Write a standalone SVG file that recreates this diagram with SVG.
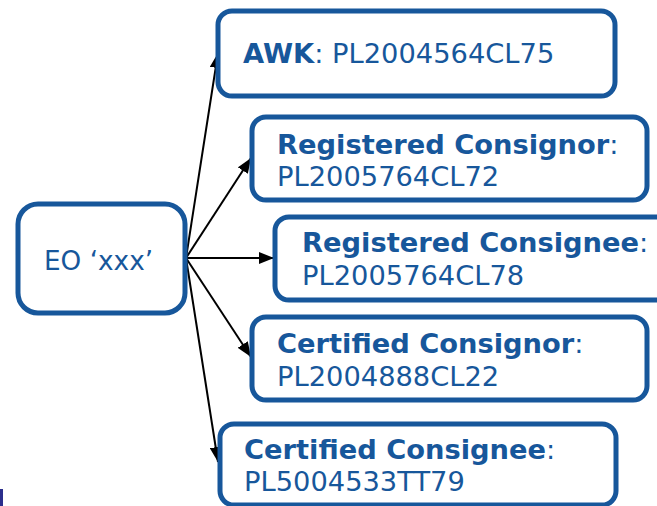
<svg xmlns="http://www.w3.org/2000/svg" width="657" height="506" viewBox="0 0 657 506">
<defs>
<marker id="ah" viewBox="0 0 15 12" refX="15" refY="6" markerWidth="15" markerHeight="12" markerUnits="userSpaceOnUse" orient="auto">
<path d="M0,0 L15,6 L0,12 z" fill="#000"/>
</marker>
<style>
.box{fill:#fff;stroke:#17579b;stroke-width:5}
.t{font-family:"DejaVu Sans",Verdana,sans-serif;font-size:27.3px;fill:#17579b}
.b{font-weight:bold}
.c{fill:none;stroke:#000;stroke-width:2;marker-end:url(#ah)}
</style>
</defs>
<rect width="657" height="506" fill="#fff"/>
<rect x="0" y="489" width="3" height="17" fill="#2b2e8c"/>
<g id="connectors">
<line class="c" x1="186" y1="258" x2="218" y2="53"/>
<line class="c" x1="186" y1="258" x2="251" y2="158"/>
<line class="c" x1="186" y1="258" x2="274" y2="258"/>
<line class="c" x1="186" y1="258" x2="251" y2="357"/>
<line class="c" x1="186" y1="258" x2="218" y2="462"/>
</g>
<g id="eo">
<rect class="box" x="18" y="204" width="167" height="109" rx="20"/>
<text class="t" x="44" y="270" style="font-size:26.3px">EO ‘xxx’</text>
</g>
<g id="awk">
<rect class="box" x="218" y="11" width="397" height="85" rx="14"/>
<text class="t" x="243" y="63"><tspan class="b">AWK</tspan>: PL2004564CL75</text>
</g>
<g id="reg-consignor">
<rect class="box" x="252" y="117" width="395" height="83" rx="14"/>
<text class="t" x="277" y="154"><tspan class="b">Registered Consignor</tspan>:</text>
<text class="t" x="277" y="186">PL2005764CL72</text>
</g>
<g id="reg-consignee">
<rect class="box" x="275" y="217" width="420" height="83" rx="14"/>
<text class="t" x="302" y="252"><tspan class="b">Registered Consignee</tspan>:</text>
<text class="t" x="302" y="285">PL2005764CL78</text>
</g>
<g id="cert-consignor">
<rect class="box" x="252" y="317" width="395" height="83" rx="14"/>
<text class="t" x="277" y="353"><tspan class="b">Certified Consignor</tspan>:</text>
<text class="t" x="277" y="386">PL2004888CL22</text>
</g>
<g id="cert-consignee">
<rect class="box" x="220" y="424" width="396" height="81" rx="14"/>
<text class="t" x="244" y="459"><tspan class="b">Certified Consignee</tspan>:</text>
<text class="t" x="244" y="491">PL5004533TT79</text>
</g>
</svg>
